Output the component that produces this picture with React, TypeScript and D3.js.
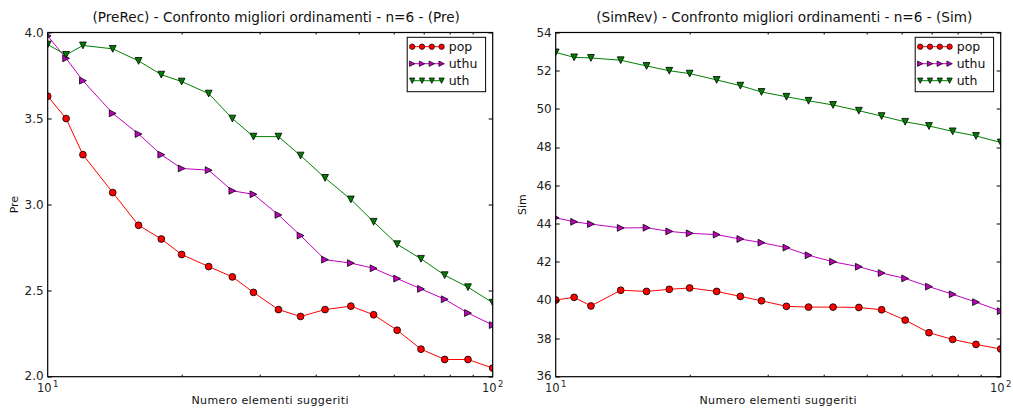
import React, { useEffect, useRef } from "react";
import * as d3 from "d3";

const xs = [10, 11, 12, 14, 16, 18, 20, 23, 26, 29, 33, 37, 42, 48, 54, 61, 69, 78, 88, 100];

const prePop = [3.63, 3.5, 3.29, 3.07, 2.88, 2.8, 2.71, 2.64, 2.58, 2.49, 2.39, 2.35, 2.39, 2.41, 2.36, 2.27, 2.16, 2.1, 2.1, 2.05];
const preUthu = [3.98, 3.85, 3.72, 3.53, 3.41, 3.29, 3.21, 3.2, 3.08, 3.06, 2.94, 2.82, 2.68, 2.66, 2.63, 2.57, 2.51, 2.45, 2.37, 2.3];
const preUth = [3.93, 3.87, 3.925, 3.905, 3.835, 3.755, 3.715, 3.645, 3.5, 3.395, 3.395, 3.285, 3.155, 3.03, 2.9, 2.77, 2.685, 2.59, 2.52, 2.43];

const simPop = [40.01, 40.15, 39.7, 40.52, 40.46, 40.57, 40.64, 40.46, 40.2, 39.97, 39.68, 39.64, 39.64, 39.62, 39.5, 38.96, 38.3, 37.95, 37.69, 37.45];
const simUthu = [44.31, 44.1, 43.98, 43.78, 43.79, 43.6, 43.5, 43.43, 43.2, 43.01, 42.75, 42.35, 42.01, 41.75, 41.42, 41.14, 40.71, 40.31, 39.9, 39.43];
const simUth = [52.96, 52.7, 52.67, 52.55, 52.25, 52.0, 51.85, 51.52, 51.22, 50.89, 50.64, 50.43, 50.21, 49.91, 49.63, 49.33, 49.11, 48.83, 48.59, 48.25];

const seriesNames = ["pop", "uthu", "uth"];
const seriesColors = ["#ff0000", "#bf00bf", "#007f00"];
const seriesMarkers = ["circle", "right", "down"];

const preTicks = [2.0, 2.5, 3.0, 3.5, 4.0];
const simTicks = [36, 38, 40, 42, 44, 46, 48, 50, 52, 54];

const FONT = "DejaVu Sans, sans-serif";

const markerPath = (kind: string, s: number) => {
  if (kind === "right") return `M${-s},${-s}L${s},0L${-s},${s}Z`;
  if (kind === "down") return `M${-s},${-s}L${s},${-s}L0,${s}Z`;
  return d3.symbol(d3.symbolCircle, Math.PI * s * s)()!;
};

type PanelProps = {
  left: number;
  title: string;
  ylabel: string;
  yDomain: [number, number];
  yTicks: number[];
  yFmt: (v: number) => string;
  series: number[][];
  id: string;
};

const Panel = ({ left, title, ylabel, yDomain, yTicks, yFmt, series, id }: PanelProps) => {
  const ref = useRef<SVGGElement>(null);
  useEffect(() => {
    const width = 445;
    const height = 344.2;
    const top = 32.5;
    const g = d3.select(ref.current);
    g.selectAll("*").remove();
    const root = g.append("g").attr("transform", `translate(${left},${top})`);

    const x = d3.scaleLog().domain([10, 100]).range([0, width]);
    const y = d3.scaleLinear().domain(yDomain).range([height, 0]);

    root
      .append("clipPath")
      .attr("id", "clip-" + id)
      .append("rect")
      .attr("width", width)
      .attr("height", height);

    const plot = root.append("g").attr("clip-path", `url(#clip-${id})`);
    const line = d3
      .line<number>()
      .x((d, i) => x(xs[i]))
      .y((d) => y(d));

    series.forEach((vals, k) => {
      plot
        .append("path")
        .attr("d", line(vals))
        .attr("fill", "none")
        .attr("stroke", seriesColors[k])
        .attr("stroke-width", 1);
      plot
        .selectAll(".m" + k)
        .data(vals)
        .enter()
        .append("path")
        .attr("d", markerPath(seriesMarkers[k], 3.4))
        .attr("transform", (d, i) => `translate(${x(xs[i])},${y(d)})`)
        .attr("fill", seriesColors[k])
        .attr("stroke", "#000")
        .attr("stroke-width", 0.8);
    });

    // ticks, all pointing inward
    const ticks = root.append("g").attr("stroke", "#000").attr("stroke-width", 1);
    yTicks.forEach((t) => {
      const yy = Math.round(y(t)) + 0.5;
      ticks.append("line").attr("x1", 0).attr("x2", 4).attr("y1", yy).attr("y2", yy);
      ticks.append("line").attr("x1", width - 4).attr("x2", width).attr("y1", yy).attr("y2", yy);
      root
        .append("text")
        .attr("x", -4)
        .attr("y", y(t) - (t === yTicks[0] ? 1 : 0))
        .attr("dy", "0.35em")
        .attr("text-anchor", "end")
        .attr("font-family", FONT)
        .attr("font-size", 12)
        .attr("fill", "#222")
        .text(yFmt(t));
    });
    const minor = [20, 30, 40, 50, 60, 70, 80, 90];
    minor.forEach((t) => {
      const xx = Math.round(x(t)) + 0.5;
      ticks.append("line").attr("x1", xx).attr("x2", xx).attr("y1", height).attr("y2", height - 2);
      ticks.append("line").attr("x1", xx).attr("x2", xx).attr("y1", 0).attr("y2", 2);
    });

    [10, 100].forEach((t, i) => {
      const lab = root
        .append("text")
        .attr("x", x(t))
        .attr("y", height + 15)
        .attr("text-anchor", "middle")
        .attr("font-family", FONT)
        .attr("font-size", 11.5)
        .attr("fill", "#222");
      lab.append("tspan").text("10");
      lab
        .append("tspan")
        .attr("dy", -5)
        .attr("font-size", 8.5)
        .attr("dx", 1.5)
        .text(String(i + 1));
    });

    root
      .append("rect")
      .attr("x", 0)
      .attr("y", 0)
      .attr("width", width)
      .attr("height", height)
      .attr("fill", "none")
      .attr("stroke", "#000")
      .attr("stroke-width", 1.2);

    root
      .append("text")
      .attr("x", width / 2 + 6)
      .attr("y", -11)
      .attr("text-anchor", "middle")
      .attr("font-family", FONT)
      .attr("font-size", 13.6)
      .attr("fill", "#111")
      .text(title);

    root
      .append("text")
      .attr("x", width / 2)
      .attr("y", height + 27)
      .attr("text-anchor", "middle")
      .attr("font-family", FONT)
      .attr("font-size", 11)
      .attr("letter-spacing", 0.4)
      .attr("fill", "#111")
      .text("Numero elementi suggeriti");

    root
      .append("text")
      .attr("transform", `translate(${-30},${height / 2}) rotate(-90)`)
      .attr("text-anchor", "middle")
      .attr("font-family", FONT)
      .attr("font-size", 11)
      .attr("fill", "#111")
      .text(ylabel);

    // legend
    const leg = root.append("g").attr("transform", `translate(${width - 85.5},${4.8})`);
    leg
      .append("rect")
      .attr("width", 78.4)
      .attr("height", 54.4)
      .attr("fill", "#fff")
      .attr("stroke", "#000")
      .attr("stroke-width", 1);
    seriesNames.forEach((name, k) => {
      const ry = 9.4 + k * 17;
      leg
        .append("line")
        .attr("x1", 4)
        .attr("x2", 34)
        .attr("y1", ry)
        .attr("y2", ry)
        .attr("stroke", seriesColors[k]);
      d3.range(4).forEach((j) => {
        leg
          .append("path")
          .attr("d", markerPath(seriesMarkers[k], 2.7))
          .attr("transform", `translate(${5 + j * 9.8},${ry})`)
          .attr("fill", seriesColors[k])
          .attr("stroke", "#000")
          .attr("stroke-width", 0.7);
      });
      leg
        .append("text")
        .attr("x", 41.5)
        .attr("y", ry)
        .attr("dy", "0.35em")
        .attr("font-family", FONT)
        .attr("font-size", 12.5)
        .attr("fill", "#111")
        .text(name);
    });
  }, []);
  return <g ref={ref}></g>;
};

export default function App() {
  return (
    <svg
      width={1013}
      height={411}
      style={{ position: "absolute", left: 0, top: 0, background: "#fff" }}
    >
      <rect width={1013} height={411} fill="#fff" />
      <Panel
        id="pre"
        left={47.7}
        title="(PreRec) - Confronto migliori ordinamenti - n=6 - (Pre)"
        ylabel="Pre"
        yDomain={[2, 4]}
        yTicks={preTicks}
        yFmt={d3.format(".1f")}
        series={[prePop, preUthu, preUth]}
      />
      <Panel
        id="sim"
        left={555.7}
        title="(SimRev) - Confronto migliori ordinamenti - n=6 - (Sim)"
        ylabel="Sim"
        yDomain={[36, 54]}
        yTicks={simTicks}
        yFmt={d3.format("d")}
        series={[simPop, simUthu, simUth]}
      />
    </svg>
  );
}
